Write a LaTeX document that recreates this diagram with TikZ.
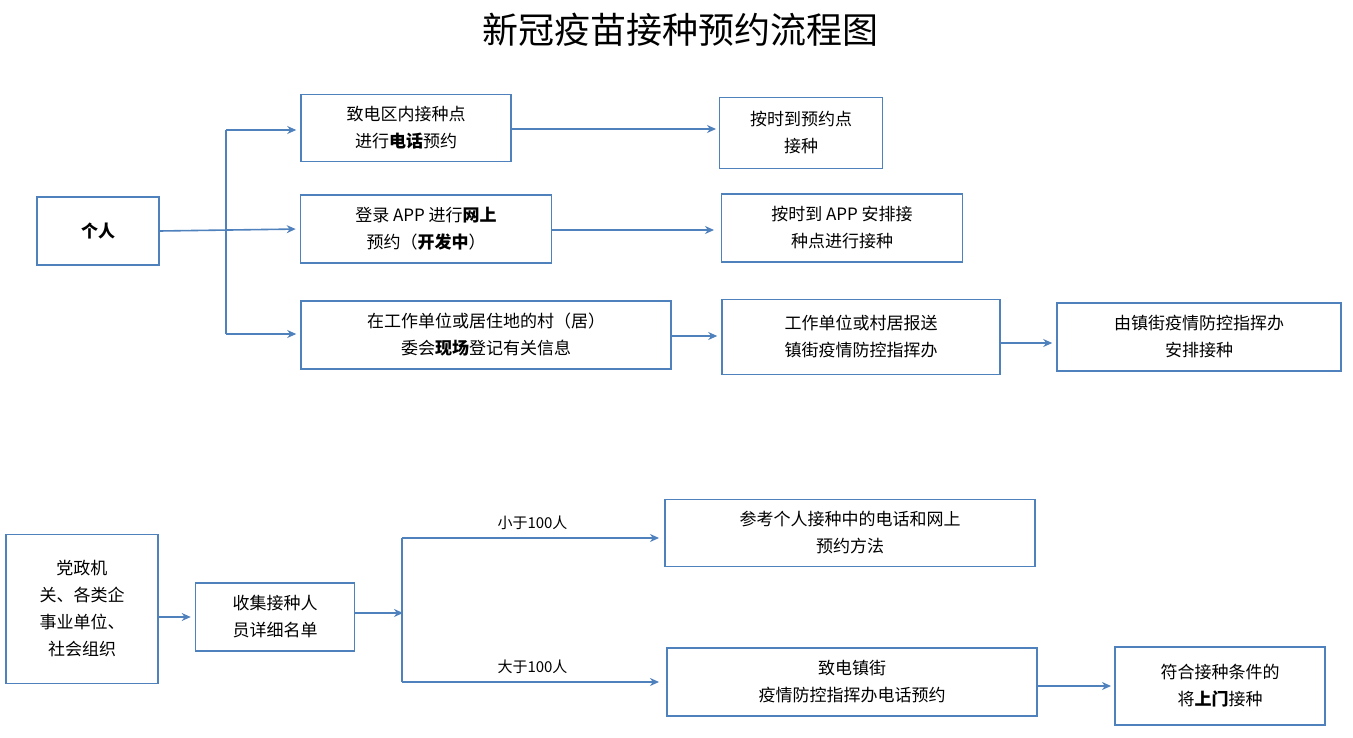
\documentclass[tikz,border=0pt]{standalone}
\usepackage{fontspec}
\setmainfont{Noto Sans CJK SC}
\usetikzlibrary{arrows.meta}
\definecolor{flowblue}{HTML}{4F81BD}
\tikzset{
  box/.style={draw=flowblue, line width=1.6pt, align=center, inner sep=0pt,
    font=\fontsize{17}{27}\selectfont},
  link/.style={draw=flowblue, line width=1.6pt},
  arr/.style={link, -{Stealth[length=9pt,width=8pt,open]}, shorten >=4pt},
}
\begin{document}
\begin{tikzpicture}[x=1pt,y=-1pt]
  \useasboundingbox[fill=white] (0,0) rectangle (1353,738);
  % title
  \node[font=\fontsize{36}{40}\selectfont] (title) at (680,30) {新冠疫苗接种预约流程图};

  % individual ---------------------------------------------------------------
  \node[box, minimum width=122pt, minimum height=68pt] (ind) at (98,231) {\textbf{个人}};
  \node[box, minimum width=210pt, minimum height=67pt] (tel) at (406,128) {致电区内接种点\\进行\textbf{电话}预约};
  \node[box, minimum width=163pt, minimum height=71pt] (telgo) at (801,133) {按时到预约点\\接种};
  \node[box, minimum width=251pt, minimum height=68pt] (app) at (426,229) {登录 APP 进行\textbf{网上}\\预约（\textbf{开发中}）};
  \node[box, minimum width=241pt, minimum height=68pt] (appgo) at (842,228) {按时到 APP 安排接\\种点进行接种};
  \node[box, minimum width=370pt, minimum height=68pt] (site) at (486,335) {在工作单位或居住地的村（居）\\委会\textbf{现场}登记有关信息};
  \node[box, minimum width=278pt, minimum height=75pt] (report) at (861,337) {工作单位或村居报送\\镇街疫情防控指挥办};
  \node[box, minimum width=284pt, minimum height=68pt] (office) at (1199,337) {由镇街疫情防控指挥办\\安排接种};

  \coordinate (split) at (226,231);
  \draw[arr] (ind.east) -- (app.west);
  \draw[link] (226,130) -- (226,334);
  \draw[arr] (226,130) -- (tel.west |- 226,130);
  \draw[arr] (226,334) -- (site.west |- 226,334);
  \draw[arr] (tel.east |- 0,129) -- (720,129);
  \draw[arr] (app.east |- 0,230) -- (718,230);
  \draw[arr] (site.east |- 0,336) -- (report.west |- 0,336);
  \draw[arr] (report.east |- 0,343) -- (office.west |- 0,343);

  % units -------------------------------------------------------------------
  \node[box, minimum width=152pt, minimum height=149pt] (unit) at (82,609) {党政机\\关、各类企\\事业单位、\\社会组织};
  \node[box, minimum width=159pt, minimum height=68pt] (list) at (275,617) {收集接种人\\员详细名单};
  \node[box, minimum width=370pt, minimum height=67pt] (few) at (850,533) {参考个人接种中的电话和网上\\预约方法};
  \node[box, minimum width=370pt, minimum height=68pt] (many) at (852,682) {致电镇街\\疫情防控指挥办电话预约};
  \node[box, minimum width=210pt, minimum height=78pt] (door) at (1220,686) {符合接种条件的\\将\textbf{上门}接种};

  \draw[arr] (unit.east |- 0,617) -- (list.west |- 0,617);
  \draw[arr] (list.east |- 0,613) -- (407,613);
  \draw[link] (402,538) -- (402,682);
  \draw[arr] (402,538) -- node[above=4pt, font=\fontsize{15}{18}\selectfont] {小于100人} (663,538);
  \draw[arr] (402,682) -- node[above=4pt, font=\fontsize{15}{18}\selectfont] {大于100人} (663,682);
  \draw[arr] (many.east |- 0,686) -- (1115,686);
\end{tikzpicture}
\end{document}
